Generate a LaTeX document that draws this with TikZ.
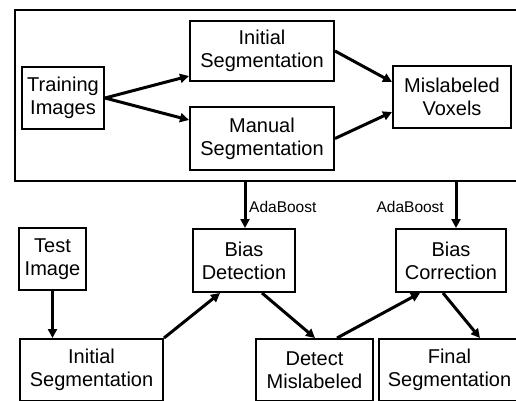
\documentclass[tikz,border=0pt]{standalone}
\usepackage{fontspec}
\setmainfont{Liberation Sans}
\usetikzlibrary{arrows.meta,calc}
\begin{document}
\begin{tikzpicture}[x=1pt,y=-1pt,
  box/.style={draw=black,line width=2pt,fill=white,inner sep=0pt,align=center,
    font=\fontsize{20}{23}\selectfont},
  arr/.style={line width=3pt,-{Triangle[length=9pt,width=9pt]}},
  lbl/.style={font=\fontsize{15.5}{17}\selectfont,inner sep=0pt}]
\useasboundingbox (0,0) rectangle (516,400);
\node[box,minimum width=515pt,minimum height=171pt] (outer) at (272.5,95.5) {};
\node[box,minimum width=82pt,minimum height=62pt] (train) at (63,98) {Training\\Images};
\node[box,minimum width=144pt,minimum height=60pt] (initt) at (262,51) {Initial\\Segmentation};
\node[box,minimum width=144pt,minimum height=63pt] (manual) at (262,138.5) {Manual\\Segmentation};
\node[box,minimum width=118pt,minimum height=62pt] (mis) at (452,97) {Mislabeled\\Voxels};
\node[box,minimum width=102pt,minimum height=63pt] (bias) at (244,260.5) {Bias\\Detection};
\node[box,minimum width=110pt,minimum height=63pt] (corr) at (451,260.5) {Bias\\Correction};
\node[box,minimum width=67pt,minimum height=62pt] (test) at (52.5,259) {Test\\Image};
\node[box,minimum width=143pt,minimum height=62pt] (initb) at (91.5,370) {Initial\\Segmentation};
\node[box,minimum width=117pt,minimum height=62pt] (det) at (314.5,370) {Detect\\Mislabeled};
\node[box,minimum width=141pt,minimum height=62pt] (final) at (449.5,370) {Final\\Segmentation};
\draw[arr] (train.east) -- ([yshift=6pt]initt.south west);
\draw[arr] (train.east) -- ([yshift=-14pt]manual.north west);
\draw[arr] (initt.east) -- ([yshift=15pt]mis.west);
\draw[arr] (manual.east) -- ([yshift=-15pt]mis.west);
\draw[arr] ([xshift=1pt]bias.north |- outer.south) -- ([xshift=1pt]bias.north);
\draw[arr] ([xshift=5pt]corr.north |- outer.south) -- ([xshift=5pt]corr.north);
\node[lbl,anchor=west] (ada1) at (249,207) {AdaBoost};
\node[lbl,anchor=east] (ada2) at (444,207) {AdaBoost};
\draw[arr] (test.south) -- (test.south |- initb.north);
\draw[arr] (initb.north east) -- ([xshift=-24pt]bias.south);
\draw[arr] ([xshift=18pt]bias.south) -- ([xshift=0.5pt]det.north);
\draw[arr] ([xshift=22.5pt]det.north) -- ([xshift=-31pt]corr.south);
\draw[arr] ([xshift=-8pt]corr.south) -- ([xshift=30.5pt]final.north);
\end{tikzpicture}
\end{document}
